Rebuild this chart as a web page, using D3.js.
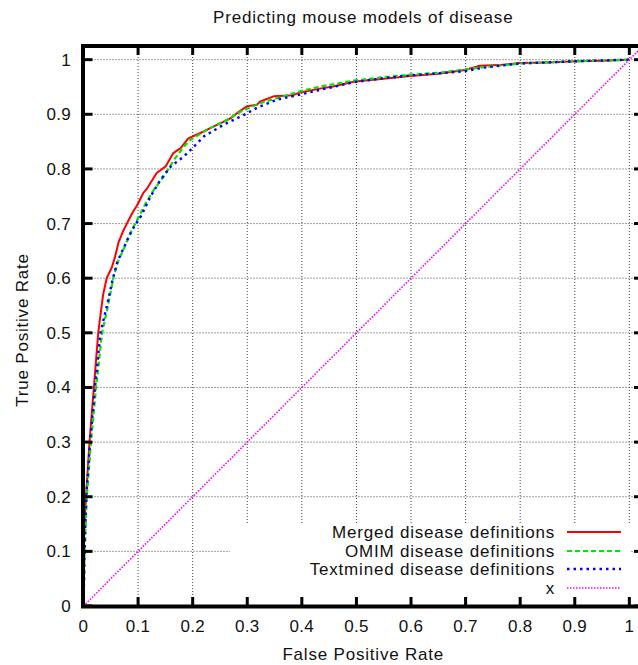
<!DOCTYPE html>
<html>
<head>
<meta charset="utf-8">
<script src="https://cdn.jsdelivr.net/npm/d3@7"></script>
<style>
  html, body { margin: 0; padding: 0; background: #fff; }
  svg { display: block; }
  text { font-family: "Liberation Sans", Arial, Helvetica, sans-serif; fill: #111; }
</style>
</head>
<body>
<svg id="chart" width="638" height="665"></svg>
<script>
// ---------- data ----------
const titleText = "Predicting mouse models of disease";
const xLabel = "False Positive Rate";
const yLabel = "True Positive Rate";
const tickValues = [0, 0.1, 0.2, 0.3, 0.4, 0.5, 0.6, 0.7, 0.8, 0.9, 1];
const tickLabels = ["0", "0.1", "0.2", "0.3", "0.4", "0.5", "0.6", "0.7", "0.8", "0.9", "1"];
const seriesNames = ["Merged disease definitions", "OMIM disease definitions", "Textmined disease definitions", "x"];

const mergedFPR = [0, 0, 0.002, 0.0046, 0.011, 0.019, 0.027, 0.0315, 0.036, 0.0425, 0.052, 0.058, 0.064, 0.072, 0.082, 0.091, 0.0985, 0.1096, 0.117, 0.134, 0.1505, 0.1645, 0.178, 0.192, 0.207, 0.221, 0.235, 0.262, 0.270, 0.285, 0.2995, 0.318, 0.323, 0.348, 0.367, 0.384, 0.3965, 0.433, 0.457, 0.497, 0.55, 0.598, 0.65, 0.699, 0.726, 0.76, 0.799, 0.85, 0.903, 0.95, 1.0];
const mergedTPR = [0, 0.1, 0.15, 0.2, 0.3, 0.4, 0.5, 0.536, 0.57, 0.6, 0.62, 0.64, 0.665, 0.685, 0.705, 0.722, 0.734, 0.756, 0.765, 0.7925, 0.8046, 0.829, 0.838, 0.856, 0.8626, 0.869, 0.876, 0.889, 0.893, 0.905, 0.9145, 0.9176, 0.923, 0.9328, 0.934, 0.935, 0.940, 0.947, 0.951, 0.960, 0.965, 0.970, 0.974, 0.981, 0.989, 0.990, 0.994, 0.995, 0.997, 0.998, 1.0];

const omimFPR = [0, 0.001, 0.002, 0.006, 0.0137, 0.023, 0.034, 0.045, 0.0546, 0.063, 0.073, 0.086, 0.0985, 0.113, 0.129, 0.147, 0.166, 0.184, 0.196, 0.227, 0.263, 0.288, 0.3245, 0.367, 0.3965, 0.43, 0.457, 0.497, 0.55, 0.598, 0.65, 0.699, 0.73, 0.8, 0.9, 1.0];
const omimTPR = [0, 0.05, 0.1, 0.2, 0.3, 0.4, 0.5, 0.55, 0.6, 0.63, 0.652, 0.683, 0.707, 0.735, 0.762, 0.786, 0.817, 0.841, 0.8535, 0.872, 0.890, 0.905, 0.9206, 0.933, 0.942, 0.950, 0.955, 0.962, 0.968, 0.9725, 0.976, 0.982, 0.986, 0.993, 0.997, 1.0];

const textFPR = [0, 0.001, 0.002, 0.005, 0.012, 0.021, 0.031, 0.043, 0.054, 0.062, 0.072, 0.083, 0.094, 0.105, 0.123, 0.141, 0.16, 0.184, 0.2024, 0.221, 0.257, 0.294, 0.318, 0.355, 0.3965, 0.43, 0.457, 0.497, 0.55, 0.598, 0.65, 0.699, 0.73, 0.8, 0.9, 1.0];
const textTPR = [0, 0.05, 0.1, 0.2, 0.3, 0.4, 0.5, 0.55, 0.6, 0.63, 0.652, 0.676, 0.697, 0.713, 0.75, 0.78, 0.8046, 0.823, 0.841, 0.86, 0.881, 0.899, 0.912, 0.927, 0.936, 0.944, 0.950, 0.959, 0.966, 0.971, 0.975, 0.979, 0.985, 0.993, 0.997, 1.0];

const diagX = [0, 1.025];
const diagY = [0, 1.025];

// ---------- layout ----------
const svg = d3.select("#chart");
const xScale = d3.scaleLinear().domain([0, 1.025]).range([83.5, 643]);
const yScale = d3.scaleLinear().domain([0, 1.025]).range([606, 46]);
const X0 = xScale(0), X1 = xScale(1.025), Y0 = yScale(0), Y1 = yScale(1.025);
const FS = 17;
const LS = "0.8px";

// title
svg.append("text").attr("x", (X0 + X1) / 2).attr("y", 23)
  .attr("text-anchor", "middle").style("font-size", FS + "px")
  .style("letter-spacing", LS).text(titleText);

// grid
const grid = svg.append("g").attr("stroke", "#444").attr("stroke-width", 1)
  .attr("stroke-dasharray", "1,2").attr("fill", "none");
tickValues.filter(v => v > 0).forEach(v => {
  grid.append("line").attr("x1", xScale(v)).attr("x2", xScale(v))
    .attr("y1", Y1 + 2).attr("y2", Y0 - 2);
  grid.append("line").attr("x1", X0 + 2).attr("x2", X1 - 2)
    .attr("y1", yScale(v)).attr("y2", yScale(v));
});

// opaque key background
svg.append("rect").attr("x", 230).attr("y", 524).attr("width", 401).attr("height", 80).attr("fill", "#fff");

// curves
const styles = [
  { color: "#ff0000", width: 2, dash: null },
  { color: "#00e600", width: 2.2, dash: "5,3" },
  { color: "#0000ff", width: 2.4, dash: "2.5,4" },
  { color: "#ff00ff", width: 1.6, dash: "1.5,1.5" }
];
const xs = [mergedFPR, omimFPR, textFPR, diagX];
const ys = [mergedTPR, omimTPR, textTPR, diagY];
const line = d3.line().x(d => xScale(d[0])).y(d => yScale(d[1]));
xs.forEach((arr, i) => {
  const pts = arr.map((v, j) => [v, ys[i][j]]);
  svg.append("path").datum(pts).attr("d", line)
    .attr("fill", "none").attr("stroke", styles[i].color)
    .attr("stroke-width", styles[i].width)
    .attr("stroke-dasharray", styles[i].dash)
    .attr("stroke-linejoin", "round");
});

// legend
const legY = [532, 551, 569, 588];
seriesNames.forEach((name, i) => {
  svg.append("text").attr("x", 555).attr("y", legY[i] + 6)
    .attr("text-anchor", "end").style("font-size", FS + "px")
    .style("letter-spacing", LS).text(name);
  svg.append("line").attr("x1", 567).attr("x2", 621)
    .attr("y1", legY[i]).attr("y2", legY[i])
    .attr("stroke", styles[i].color).attr("stroke-width", styles[i].width)
    .attr("stroke-dasharray", styles[i].dash);
});

// ticks (inward, mirrored)
const tk = svg.append("g").attr("stroke", "#000").attr("stroke-width", 3);
tickValues.forEach(v => {
  const xp = xScale(v), yp = yScale(v);
  tk.append("line").attr("x1", xp).attr("x2", xp).attr("y1", Y0).attr("y2", Y0 - 9);
  tk.append("line").attr("x1", xp).attr("x2", xp).attr("y1", Y1).attr("y2", Y1 + 9);
  tk.append("line").attr("x1", X0).attr("x2", X0 + 9).attr("y1", yp).attr("y2", yp);
  tk.append("line").attr("x1", X1).attr("x2", X1 - 9).attr("y1", yp).attr("y2", yp);
});

// border
svg.append("rect").attr("x", X0 - 0.5).attr("y", Y1).attr("width", X1 - X0).attr("height", Y0 - Y1 + 0.5)
  .attr("fill", "none").attr("stroke", "#000").attr("stroke-width", 4);

// tick labels
tickValues.forEach((v, i) => {
  svg.append("text").attr("x", xScale(v)).attr("y", 632)
    .attr("text-anchor", "middle").style("font-size", FS + "px")
    .style("letter-spacing", "0.3px").text(tickLabels[i]);
  svg.append("text").attr("x", 71).attr("y", yScale(v) + 6)
    .attr("text-anchor", "end").style("font-size", FS + "px")
    .style("letter-spacing", "0.3px").text(tickLabels[i]);
});

// axis labels
svg.append("text").attr("x", (X0 + X1) / 2).attr("y", 660)
  .attr("text-anchor", "middle").style("font-size", FS + "px")
  .style("letter-spacing", LS).text(xLabel);
svg.append("text").attr("transform", "translate(28," + ((Y0 + Y1) / 2 + 4) + ") rotate(-90)")
  .attr("text-anchor", "middle").style("font-size", FS + "px")
  .style("letter-spacing", LS).text(yLabel);
</script>
</body>
</html>
